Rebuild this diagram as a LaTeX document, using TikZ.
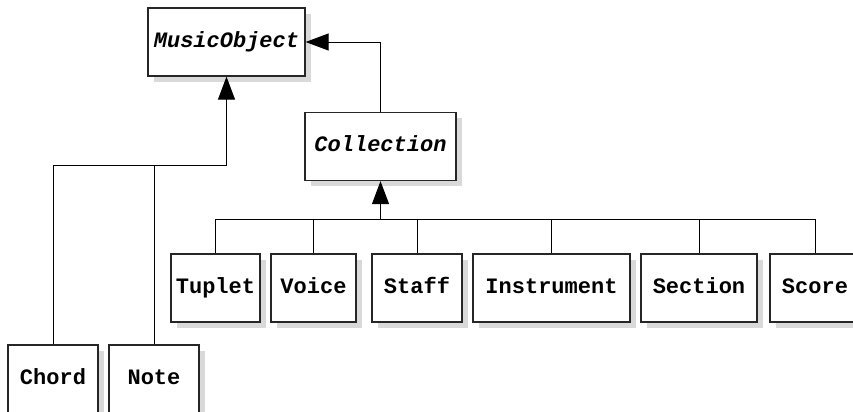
\documentclass[tikz,border=0pt]{standalone}
\usepackage{fontspec}
\setmonofont{Liberation Mono}
\usetikzlibrary{arrows.meta, positioning, shadows}

\begin{document}
\begin{tikzpicture}[
    x=0.5pt, y=-0.5pt,
    cls/.style={rectangle, draw=black!85, fill=white, line width=0.6pt, minimum height=34pt, inner sep=0pt,
        text height=7.5pt, text depth=2.5pt,
        font=\fontsize{11}{13}\selectfont\ttfamily\bfseries,
        drop shadow={shadow xshift=2.8pt, shadow yshift=-2.8pt, fill=black!15, opacity=1}},
    abstract/.style={cls, font=\fontsize{11}{13}\selectfont\ttfamily\bfseries\itshape},
    line/.style={draw=black, line width=0.5pt},
    inherit/.style={line, -{Triangle[length=11.5pt, width=8.5pt]}}
]
    \useasboundingbox (0,0) rectangle (853,412);

    % Abstract classes
    \node [abstract, minimum width=78.5pt] (mobj) at (226.5,42) {MusicObject};
    \node [abstract, minimum width=75.5pt] (coll) at (380.5,146.5) {Collection};

    % Leaf classes of MusicObject
    \node [cls, minimum width=45pt] (chord) at (53,379) {Chord};
    \node [cls, minimum width=45pt] (note) at (154,379) {Note};

    % Leaf classes of Collection
    \node [cls, minimum width=44.5pt] (tuplet) at (215.5,288) {Tuplet};
    \node [cls, minimum width=42.5pt] (voice) at (313.5,288) {Voice};
    \node [cls, minimum width=45pt] (staff) at (417,288) {Staff};
    \node [cls, minimum width=78.5pt] (instr) at (551.5,288) {Instrument};
    \node [cls, minimum width=58pt] (section) at (699,288) {Section};
    \node [cls, minimum width=45pt] (score) at (815,288) {Score};

    % Junctions of the inheritance trees
    \coordinate (mjoin) at (mobj.south |- 0,165);
    \coordinate (cjoin) at (coll.south |- 0,219);

    % Connections
    \path [inherit] (coll.north) |- (mobj.east);
    \path [inherit] (mjoin) -- (mobj.south);
    \foreach \c in {chord, note}
        \path [line] (\c.north) |- (mjoin);
    \path [inherit] (cjoin) -- (coll.south);
    \foreach \c in {tuplet, voice, staff, instr, section, score}
        \path [line] (\c.north) |- (cjoin);

\end{tikzpicture}
\end{document}
